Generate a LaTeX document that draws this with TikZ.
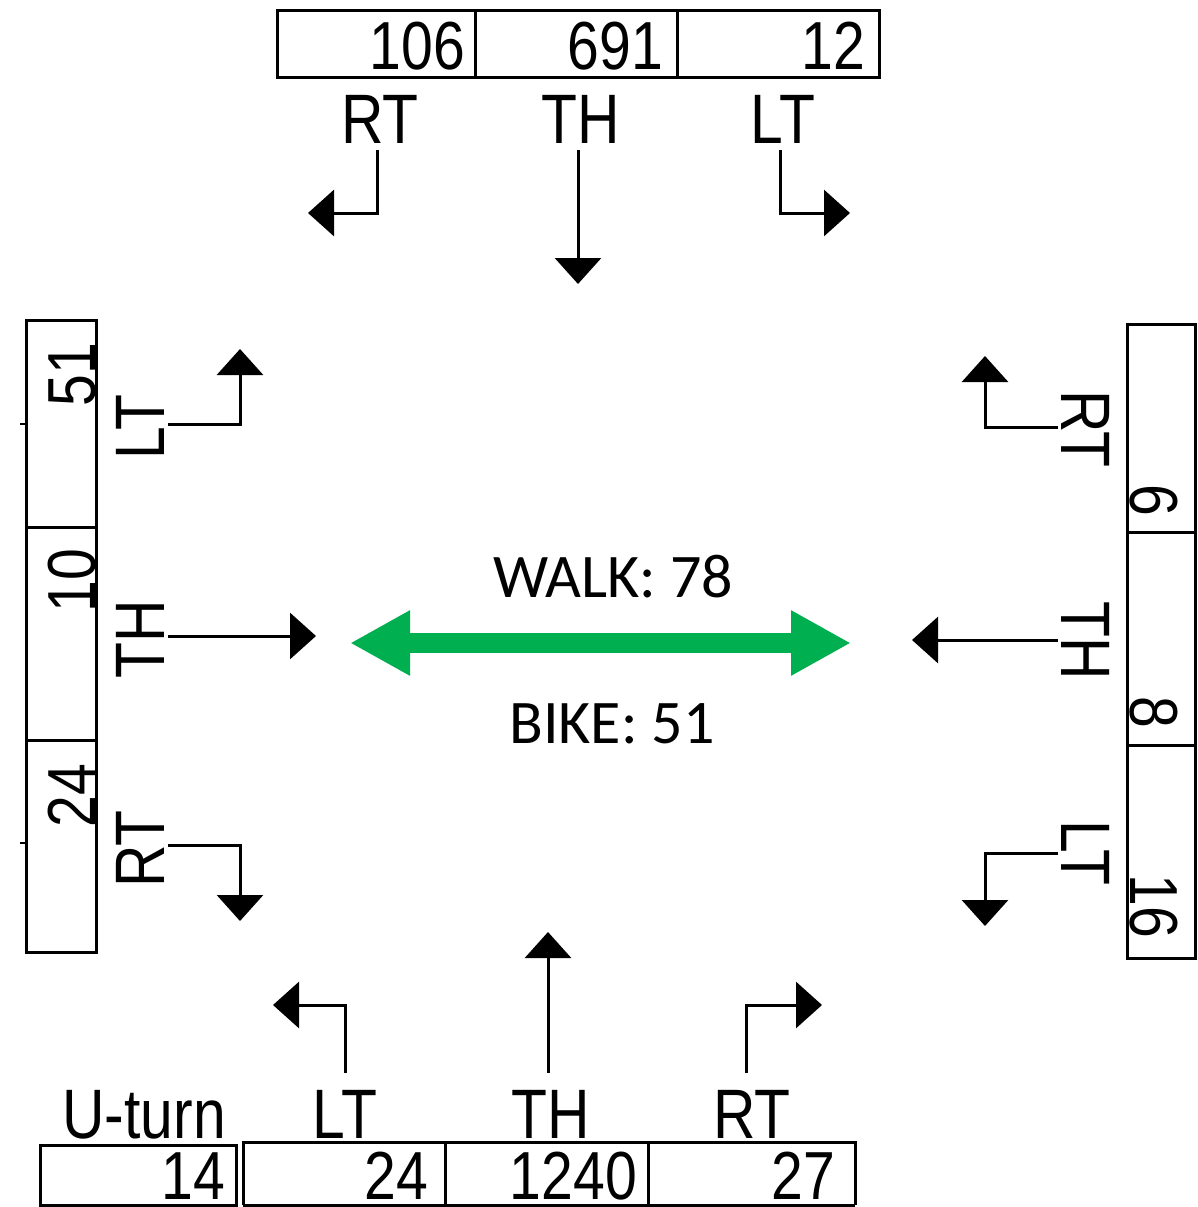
\documentclass[tikz,border=0pt]{standalone}
\usepackage{fontspec}
\usetikzlibrary{arrows.meta}
\newfontfamily\tabfont[FakeStretch=0.84]{Liberation Sans}
\newfontfamily\calfont{Carlito}
\definecolor{officegreen}{HTML}{00B050}
\tikzset{
  cellbox/.style={draw=black,line width=3pt},
  num/.style={inner sep=0pt,font=\tabfont\fontsize{68pt}{68pt}\selectfont,text=black},
  lbl/.style={inner sep=0pt,font=\tabfont\fontsize{70pt}{70pt}\selectfont,text=black},
  arr/.style={line width=3pt,-{Triangle[length=26pt,width=46pt]}},
  bigarr/.style={line width=20pt,officegreen,{Triangle[length=60pt,width=61pt]}-{Triangle[length=60pt,width=61pt]}},
  ctext/.style={inner sep=0pt,font=\calfont\fontsize{62pt}{62pt}\selectfont}
}
\begin{document}
\begin{tikzpicture}[x=1pt,y=-1pt]
\useasboundingbox (0,0) rectangle (1198,1207);
\fill[white] (0,0) rectangle (1198,1207);

% ---------- top ----------
\draw[cellbox] (277,11) rectangle (879,77);
\draw[cellbox] (475,11) -- (475,77);
\draw[cellbox] (677,11) -- (677,77);
\node[num,anchor=base east] (tn1) at (465,70) {106};
\node[num,anchor=base east] (tn2) at (663,70) {691};
\node[num,anchor=base east] (tn3) at (865,70) {12};
\node[lbl,anchor=base] (tRT) at (380,143) {RT};
\node[lbl,anchor=base] (tTH) at (581,143) {TH};
\node[lbl,anchor=base] (tLT) at (783,143) {LT};
\coordinate (tRTs) at (377,150);
\coordinate (tTHs) at (578,150);
\coordinate (tLTs) at (780,150);
\coordinate (tRTe) at (308,213);
\coordinate (tTHe) at (578,284);
\coordinate (tLTe) at (850,213);
\draw[arr] (tRTs) |- (tRTe);
\draw[arr] (tTHs) -- (tTHe);
\draw[arr] (tLTs) |- (tLTe);

% ---------- left ----------
\draw[cellbox] (26,320) rectangle (96,952);
\draw[cellbox] (26,527) -- (96,527);
\draw[cellbox] (26,740) -- (96,740);
\draw[line width=2pt] (20,424) -- (26,424);
\draw[line width=2pt] (20,843) -- (26,843);
\node[num,rotate=90,anchor=base east] (ln1) at (95,343) {51};
\node[num,rotate=90,anchor=base east] (ln2) at (95,549) {10};
\node[num,rotate=90,anchor=base east] (ln3) at (95,764) {24};
\node[lbl,rotate=90,anchor=base] (lLT) at (164,427) {LT};
\node[lbl,rotate=90,anchor=base] (lTH) at (164,639) {TH};
\node[lbl,rotate=90,anchor=base] (lRT) at (164,849) {RT};
\coordinate (lLTs) at (168,424);
\coordinate (lTHs) at (168,636);
\coordinate (lRTs) at (168,845);
\coordinate (lLTe) at (240,349);
\coordinate (lTHe) at (316,636);
\coordinate (lRTe) at (240,921);
\draw[arr] (lLTs) -| (lLTe);
\draw[arr] (lTHs) -- (lTHe);
\draw[arr] (lRTs) -| (lRTe);

% ---------- right ----------
\draw[cellbox] (1127,324) rectangle (1195,958);
\draw[cellbox] (1127,532) -- (1195,532);
\draw[cellbox] (1127,745) -- (1195,745);
\node[num,rotate=-90,anchor=base east] (rn1) at (1130,516) {6};
\node[num,rotate=-90,anchor=base east] (rn2) at (1130,728) {8};
\node[num,rotate=-90,anchor=base east] (rn3) at (1130,938) {16};
\node[lbl,rotate=-90,anchor=base] (rRT) at (1061,429) {RT};
\node[lbl,rotate=-90,anchor=base] (rTH) at (1061,641) {TH};
\node[lbl,rotate=-90,anchor=base] (rLT) at (1061,853) {LT};
\coordinate (rRTs) at (1058,427);
\coordinate (rTHs) at (1058,640);
\coordinate (rLTs) at (1058,853);
\coordinate (rRTe) at (985,356);
\coordinate (rTHe) at (912,640);
\coordinate (rLTe) at (985,926);
\draw[arr] (rRTs) -| (rRTe);
\draw[arr] (rTHs) -- (rTHe);
\draw[arr] (rLTs) -| (rLTe);

% ---------- bottom ----------
\draw[cellbox] (40,1145) rectangle (236,1205);
\draw[cellbox] (243,1205) -- (243,1142) -- (855,1142) -- (855,1205);
\draw[cellbox] (243,1205) -- (855,1205);
\draw[cellbox] (445,1142) -- (445,1205);
\draw[cellbox] (648,1142) -- (648,1205);
\node[num,anchor=base east] (bn0) at (225,1199) {14};
\node[num,anchor=base east] (bn1) at (428,1199) {24};
\node[num,anchor=base east] (bn2) at (637,1199) {1240};
\node[num,anchor=base east] (bn3) at (835,1199) {27};
\node[lbl,anchor=base east] (bU) at (226,1138) {U-turn};
\node[lbl,anchor=base] (bLT) at (345,1138) {LT};
\node[lbl,anchor=base] (bTH) at (551,1138) {TH};
\node[lbl,anchor=base] (bRT) at (752,1138) {RT};
\coordinate (bLTs) at (345,1073);
\coordinate (bTHs) at (548,1073);
\coordinate (bRTs) at (746,1073);
\coordinate (bLTe) at (273,1005);
\coordinate (bTHe) at (548,932);
\coordinate (bRTe) at (822,1005);
\draw[arr] (bLTs) |- (bLTe);
\draw[arr] (bTHs) -- (bTHe);
\draw[arr] (bRTs) |- (bRTe);

% ---------- centre ----------
\coordinate (gL) at (350,643);
\coordinate (gR) at (851,643);
\draw[bigarr] (gL) -- (gR);
\node[ctext,anchor=base] (walk) at (613,597) {WALK: 78};
\node[ctext,anchor=base] (bike) at (612,743) {BIKE: 51};
\end{tikzpicture}
\end{document}
